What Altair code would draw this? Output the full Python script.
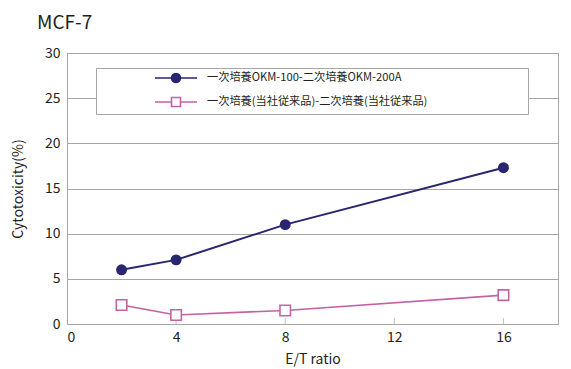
import altair as alt
import pandas as pd

# ---- data ----
et_ratio = [2, 4, 8, 16]
okm_values = [6.0, 7.1, 11.0, 17.3]
conv_values = [2.1, 1.0, 1.5, 3.2]
series_names = ["一次培養OKM-100-二次培養OKM-200A", "一次培養(当社従来品)-二次培養(当社従来品)"]
x_ticks = [0, 4, 8, 12, 16]
y_ticks = [0, 5, 10, 15, 20, 25, 30]

NAVY = "#27266f"
PINK = "#c462a5"
GRAY = "#aaa5a5"
TXT = "#231f20"
FONT = "Noto Sans CJK JP"

rows = []
for name, vals in zip(series_names, [okm_values, conv_values]):
    for x, y in zip(et_ratio, vals):
        rows.append({"ratio": x, "cyto": y, "series": name})
df = pd.DataFrame(rows)
ticks_df = pd.DataFrame({"t": x_ticks[1:]})

path_circle = "M-4.2,0H-0.9M0.9,0H4.2M-0.9,0A0.9,0.9 0 1,1 0.9,0A0.9,0.9 0 1,1 -0.9,0Z"
path_square = "M-4.2,0H-0.9M0.9,0H4.2M-0.9,-0.9H0.9V0.9H-0.9Z"
pad = "\u2800" * 12

x_enc = alt.X(
    "ratio:Q",
    scale=alt.Scale(domain=[0, 18], nice=False),
    axis=alt.Axis(values=x_ticks, title="E/T ratio", grid=False, ticks=False,
                  labelPadding=6, titlePadding=8),
)
y_enc = alt.Y(
    "cyto:Q",
    scale=alt.Scale(domain=[0, 30], nice=False),
    axis=alt.Axis(values=y_ticks, title="Cytotoxicity(%)", grid=True, ticks=False,
                  labelPadding=7, titlePadding=19),
)

base = alt.Chart(df)
sel_a = alt.datum.series == series_names[0]
sel_b = alt.datum.series == series_names[1]

line_a = base.transform_filter(sel_a).mark_line(strokeWidth=2, color=NAVY).encode(x=x_enc, y=y_enc)
line_b = base.transform_filter(sel_b).mark_line(strokeWidth=1.6, color=PINK).encode(x="ratio:Q", y="cyto:Q")
pts_a = base.transform_filter(sel_a).mark_point(
    shape="circle", filled=True, size=120, color=NAVY, opacity=1
).encode(x="ratio:Q", y="cyto:Q")
pts_b = base.transform_filter(sel_b).mark_point(
    shape="square", filled=False, size=110, color=PINK, fill="white", strokeWidth=1.6, opacity=1
).encode(x="ratio:Q", y="cyto:Q")

legend_layer = base.mark_point(size=0, filled=False, opacity=1, strokeWidth=1.6).encode(
    x="ratio:Q", y="cyto:Q",
    color=alt.Color(
        "series:N", scale=alt.Scale(domain=series_names, range=[NAVY, PINK]), title=None,
        legend=alt.Legend(
            orient="none", legendX=29, legendY=15,
            padding=4, rowPadding=8,
            strokeColor=GRAY, fillColor="white",
            symbolOffset=70, labelOffset=25,
            symbolSize=100, symbolStrokeWidth=1.6,
            labelFont=FONT, labelFontSize=11.2, labelColor=TXT, labelLimit=600,
            labelExpr=f"datum.label + '{pad}'",
        ),
    ),
    fill=alt.Fill("series:N", scale=alt.Scale(domain=series_names, range=[NAVY, "white"]), title=None),
    shape=alt.Shape("series:N", scale=alt.Scale(domain=series_names, range=[path_circle, path_square]), title=None),
)

inner_ticks = alt.Chart(ticks_df).mark_tick(
    orient="vertical", size=6, yOffset=-3, thickness=1, color=GRAY
).encode(x="t:Q", y=alt.datum(0))

chart = alt.layer(line_a, line_b, inner_ticks, pts_a, pts_b, legend_layer).properties(
    width=491, height=271,
    autosize="none",
    padding={"left": 59, "top": 45, "right": 5, "bottom": 50},
    title=alt.TitleParams("MCF-7", anchor="start", frame="group", dx=-30, offset=13,
                          font=FONT, fontSize=19, fontWeight="normal", color=TXT),
).configure_view(stroke=GRAY, strokeWidth=1).configure_axis(
    domainColor=GRAY, gridColor=GRAY, gridWidth=1,
    labelFont=FONT, labelFontSize=14, labelColor=TXT,
    titleFont=FONT, titleFontSize=14, titleFontWeight="normal", titleColor=TXT,
)

chart.save("out.html", embed_options={"renderer": "svg", "actions": False})
